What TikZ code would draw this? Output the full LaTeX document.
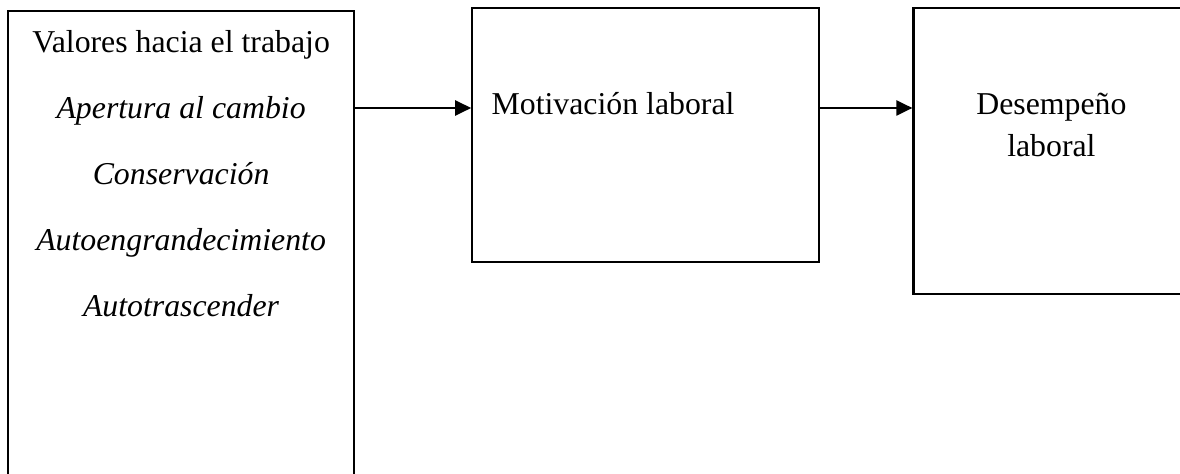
\documentclass[tikz,border=0pt]{standalone}
\usepackage{fontspec}
\setmainfont{Liberation Serif}
\usetikzlibrary{arrows.meta, positioning}

\begin{document}
\begin{tikzpicture}[
        % Box styles
        bigbox/.style={rectangle, draw=black, line width=1.1pt, inner sep=0pt, anchor=north west},
        boxtext/.style={inner sep=0pt, align=center, font=\fontsize{15.9}{33}\selectfont},
        arrow/.style={draw, line width=1.1pt, -{Triangle[length=8pt, width=7.5pt]}}
    ]
    \useasboundingbox (0,0) rectangle (590pt,-237pt);

    % --- BOXES ---
    \node (valores) [bigbox, minimum width=173pt, minimum height=250pt] at (3.5pt,-5pt) {};
    \node (motiv) [bigbox, minimum width=173.5pt, minimum height=127pt, right=58pt of valores.north east, anchor=north west, yshift=1.5pt] {};
    \node (desemp) [bigbox, minimum width=143pt, minimum height=143pt, right=46pt of motiv.north east, anchor=north west] {};

    % --- TEXTS ---
    \node (valorestxt) [boxtext, anchor=north] at ([yshift=-10pt]valores.north) {Valores hacia el trabajo\\ \textit{Apertura al cambio}\\ \textit{Conservación}\\ \textit{Autoengrandecimiento}\\ \textit{Autotrascender}};
    \node (motivtxt) [boxtext, anchor=base west] at ([xshift=10pt, yshift=-54pt]motiv.north west) {Motivación laboral};
    \node (desemptxt) [boxtext, anchor=north, font=\fontsize{15.9}{21}\selectfont] at ([xshift=69.5pt, yshift=-43pt]desemp.north west) {Desempeño\\ laboral};

    % --- ARROWS ---
    \draw [arrow] ([yshift=-49pt]valores.north east) -- ([yshift=-50.5pt]motiv.north west);
    \draw [arrow] ([yshift=-50.5pt]motiv.north east) -- ([yshift=-50.5pt]desemp.north west);

\end{tikzpicture}
\end{document}
